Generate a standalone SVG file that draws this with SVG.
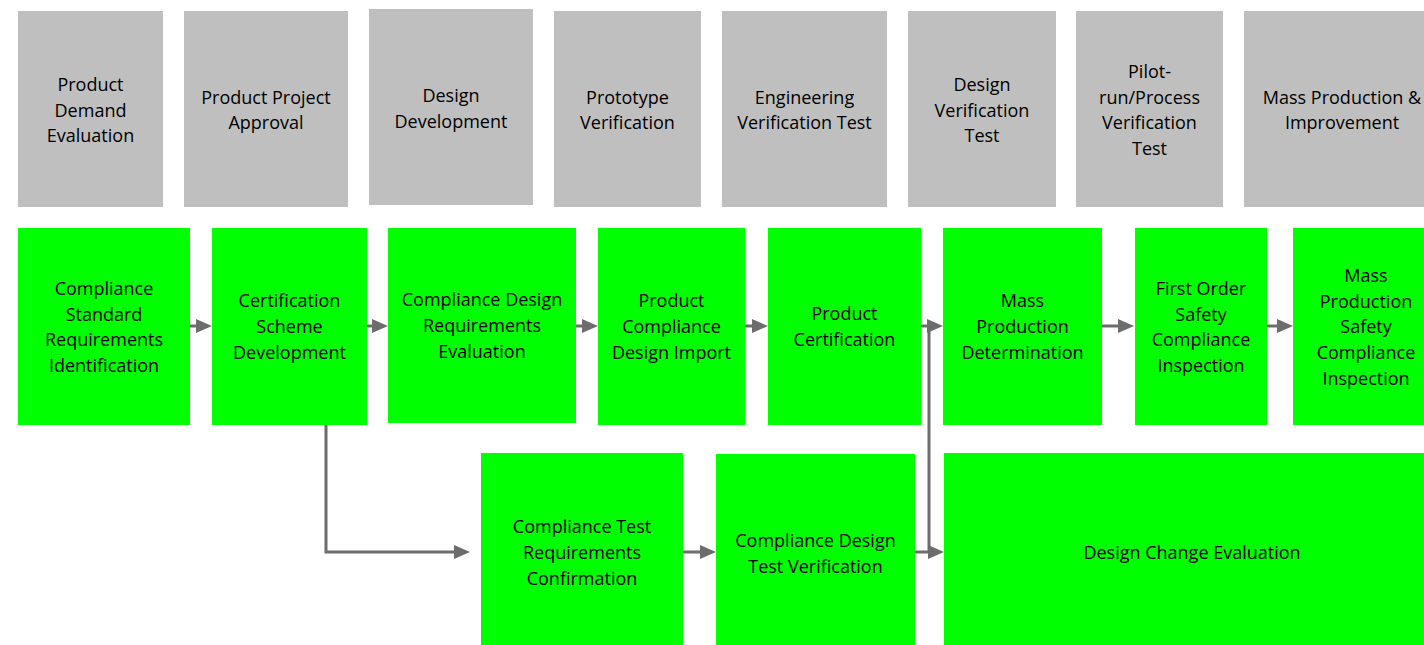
<svg xmlns="http://www.w3.org/2000/svg" width="1424" height="645" viewBox="0 0 1424 645">
<style>
.ph{fill:#bfbfbf}
.st{fill:#00ff00}
text{font-family:"Open Sans","Noto Sans","Liberation Sans",sans-serif;font-size:18px;fill:#000;text-anchor:middle}
.c{fill:none;stroke:#6d6d6d;stroke-width:3}
</style>
<defs>
<marker id="ah" markerUnits="userSpaceOnUse" markerWidth="16" markerHeight="14" refX="6" refY="7" orient="auto">
<path d="M0,0 L16,7 L0,14 z" fill="#6d6d6d"/>
</marker>
</defs>
<rect width="1424" height="645" fill="#fff"/>
<g id="phases">
<g id="p1"><rect class="ph" x="18" y="11" width="145" height="196"/><text x="90.5" y="91">Product</text><text x="90.5" y="117">Demand</text><text x="90.5" y="142">Evaluation</text></g>
<g id="p2"><rect class="ph" x="184" y="11" width="164" height="196"/><text x="266" y="104">Product Project</text><text x="266" y="129">Approval</text></g>
<g id="p3"><rect class="ph" x="369" y="9" width="164" height="196"/><text x="451" y="102">Design</text><text x="451" y="128">Development</text></g>
<g id="p4"><rect class="ph" x="554" y="11" width="147" height="196"/><text x="627.5" y="104">Prototype</text><text x="627.5" y="129">Verification</text></g>
<g id="p5"><rect class="ph" x="722" y="11" width="165" height="196"/><text x="804.5" y="104">Engineering</text><text x="804.5" y="129">Verification Test</text></g>
<g id="p6"><rect class="ph" x="908" y="11" width="148" height="196"/><text x="982" y="91">Design</text><text x="982" y="117">Verification</text><text x="982" y="142">Test</text></g>
<g id="p7"><rect class="ph" x="1076" y="11" width="147" height="196"/><text x="1149.5" y="78">Pilot-</text><text x="1149.5" y="104">run/Process</text><text x="1149.5" y="129">Verification</text><text x="1149.5" y="155">Test</text></g>
<g id="p8"><rect class="ph" x="1244" y="11" width="196" height="196"/><text x="1342" y="104">Mass Production &amp;</text><text x="1342" y="129">Improvement</text></g>
</g>
<g id="steps">
<g id="s1"><rect class="st" x="18" y="228" width="172" height="197"/><text x="104" y="295">Compliance</text><text x="104" y="321">Standard</text><text x="104" y="346">Requirements</text><text x="104" y="372">Identification</text></g>
<g id="s2"><rect class="st" x="212" y="228" width="155" height="197"/><text x="289.5" y="307">Certification</text><text x="289.5" y="333">Scheme</text><text x="289.5" y="359">Development</text></g>
<g id="s3"><rect class="st" x="388" y="228" width="188" height="195"/><text x="482" y="306">Compliance Design</text><text x="482" y="332">Requirements</text><text x="482" y="358">Evaluation</text></g>
<g id="s4"><rect class="st" x="598" y="228" width="147" height="197"/><text x="671.5" y="307">Product</text><text x="671.5" y="333">Compliance</text><text x="671.5" y="359">Design Import</text></g>
<g id="s5"><rect class="st" x="768" y="228" width="153" height="197"/><text x="844.5" y="320">Product</text><text x="844.5" y="346">Certification</text></g>
<g id="s6"><rect class="st" x="943" y="228" width="159" height="197"/><text x="1022.5" y="307">Mass</text><text x="1022.5" y="333">Production</text><text x="1022.5" y="359">Determination</text></g>
<g id="s7"><rect class="st" x="1135" y="228" width="132" height="197"/><text x="1201" y="295">First Order</text><text x="1201" y="321">Safety</text><text x="1201" y="346">Compliance</text><text x="1201" y="372">Inspection</text></g>
<g id="s8"><rect class="st" x="1293" y="228" width="147" height="197"/><text x="1366" y="282">Mass</text><text x="1366" y="308">Production</text><text x="1366" y="333">Safety</text><text x="1366" y="359">Compliance</text><text x="1366" y="385">Inspection</text></g>
<g id="s9"><rect class="st" x="481" y="453" width="202" height="200"/><text x="582" y="533">Compliance Test</text><text x="582" y="559">Requirements</text><text x="582" y="585">Confirmation</text></g>
<g id="s10"><rect class="st" x="716" y="454" width="199" height="199"/><text x="815.5" y="547">Compliance Design</text><text x="815.5" y="573">Test Verification</text></g>
<g id="s11"><rect class="st" x="944" y="453" width="496" height="200"/><text x="1192" y="559">Design Change Evaluation</text></g>
</g>
<g id="connectors">
<line class="c" x1="190" y1="326" x2="202" y2="326" marker-end="url(#ah)"/>
<line class="c" x1="367" y1="326" x2="378" y2="326" marker-end="url(#ah)"/>
<line class="c" x1="576" y1="326" x2="588" y2="326" marker-end="url(#ah)"/>
<line class="c" x1="745" y1="326" x2="758" y2="326" marker-end="url(#ah)"/>
<line class="c" x1="921" y1="326" x2="933" y2="326" marker-end="url(#ah)"/>
<line class="c" x1="1102" y1="326" x2="1124" y2="326" marker-end="url(#ah)"/>
<line class="c" x1="1267" y1="326" x2="1283" y2="326" marker-end="url(#ah)"/>
<polyline class="c" points="326,425 326,552 460,552" marker-end="url(#ah)"/>
<line class="c" x1="683" y1="552" x2="706" y2="552" marker-end="url(#ah)"/>
<line class="c" x1="915" y1="552" x2="934" y2="552" marker-end="url(#ah)"/>
<line class="c" x1="929" y1="326" x2="929" y2="552"/>
</g>
</svg>
